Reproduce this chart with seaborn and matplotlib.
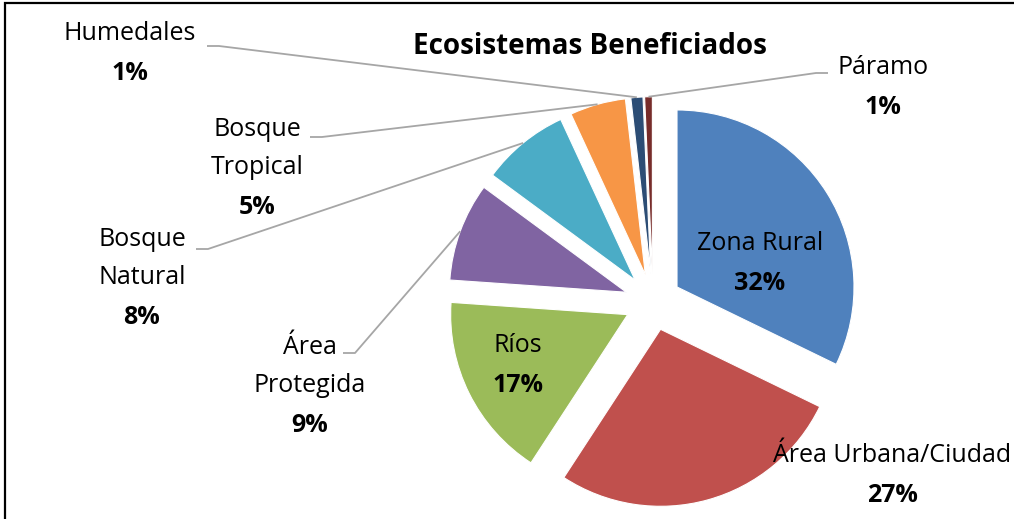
import numpy as np
import matplotlib.pyplot as plt
import matplotlib.patches as mpatches
import seaborn as sns

sns.set_theme(style='white')
plt.rcParams['font.family'] = ['Open Sans', 'DejaVu Sans']

# data (percent of mentions)
categorias = ['Zona Rural', 'Área Urbana/Ciudad', 'Ríos', 'Área Protegida',
              'Bosque Natural', 'Bosque Tropical', 'Humedales', 'Páramo']
valores = [32.2, 27.0, 16.9, 9.0, 8.0, 5.1, 1.1, 0.7]
colores = ['#4F81BD', '#C0504D', '#9BBB59', '#8064A2',
           '#4BACC6', '#F79646', '#2C4D75', '#772C2A']

W, H = 1014, 519
FS = 18
LINE = 38
R = 177

# label layout in image pixels: (x, first line y, lines, leader start or None, leader dir)
layout = {
    'Zona Rural': (760, 243, ['Zona Rural'], None, 0),
    'Área Urbana/Ciudad': (892, 455, ['Área Urbana/Ciudad'], None, 0),
    'Ríos': (518, 346, ['Ríos'], None, 0),
    'Área Protegida': (310, 347, ['Área', 'Protegida'], (343, 353), 1),
    'Bosque Natural': (142, 240, ['Bosque', 'Natural'], (196, 249), 1),
    'Bosque Tropical': (257, 130, ['Bosque', 'Tropical'], (310, 137), 1),
    'Humedales': (130, 33, ['Humedales'], (207, 46), 1),
    'Páramo': (883, 67, ['Páramo'], (828, 73), -1),
}

def ypix(y):
    return H - y

fig = plt.figure(figsize=(W / 100, H / 100), dpi=100)
ax = fig.add_axes([0, 0, 1, 1])

total = sum(valores)
wedges, _ = ax.pie(valores, colors=colores, startangle=90, counterclock=False,
                   radius=R, center=(653, ypix(302)), explode=[0.16 * R] * len(valores),
                   wedgeprops=dict(edgecolor='white', linewidth=0.8))
ax.set_xlim(0, W)
ax.set_ylim(0, H)
ax.set_aspect('equal')
ax.axis('off')

for w, cat, v in zip(wedges, categorias, valores):
    x, y, lines, start, d = layout[cat]
    for i, ln in enumerate(lines):
        ax.text(x, ypix(y + i * LINE), ln, ha='center', va='center', fontsize=FS, color='black')
    ax.text(x, ypix(y + len(lines) * LINE + 2), '{:.0f}%'.format(v / total * 100),
            ha='center', va='center', fontsize=FS, fontweight='bold', color='black')
    if start is not None:
        ang = np.deg2rad((w.theta1 + w.theta2) / 2)
        cx, cy = w.center
        ex, ey = cx + w.r * np.cos(ang), cy + w.r * np.sin(ang)
        sx, sy = start
        ax.plot([sx, sx + 12 * d, ex], [ypix(sy), ypix(sy), ey],
                color='#A6A6A6', lw=1.3, solid_capstyle='butt')

ax.text(590, ypix(46), 'Ecosistemas Beneficiados', ha='center', va='center',
        fontsize=20, fontweight='bold', color='black')

# chart frame (only left and top edges fall inside the picture)
fig.add_artist(mpatches.Rectangle((5 / W, -0.2), 2, 1.2 - 3 / H, transform=fig.transFigure,
                                  fill=False, edgecolor='black', lw=1.6))

fig.savefig('out.png', dpi=100)
